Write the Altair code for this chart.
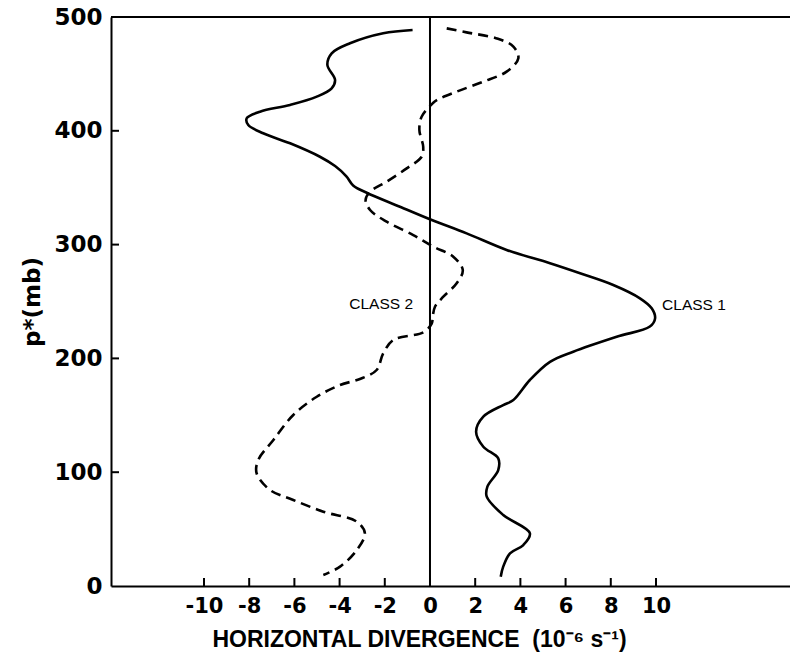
import altair as alt
import pandas as pd

# Class 1 (solid) profile, top to bottom: divergence (1e-6 s^-1) and p* (mb)
class1_x = [-0.77, -2.07, -3.54, -4.35, -4.54, -4.20, -4.35, -5.01, -6.19, -7.52,
            -8.11, -8.04, -7.38, -6.19, -4.87, -4.20, -3.70, -3.40, -2.80, -1.33,
            0.08, 1.62, 3.39, 5.31, 6.64, 8.11, 9.29, 9.81, 9.96, 9.73,
            8.26, 6.34, 5.31, 4.42, 3.69, 3.24, 2.36, 2.04, 2.36, 3.02,
            3.02, 2.54, 2.51, 3.24, 4.42, 4.13, 3.54, 3.24, 3.13]
class1_p = [488.6, 485.7, 476.9, 468.1, 457.8, 444.6, 437.3, 430.0, 422.7, 416.8,
            411.0, 405.1, 397.8, 389.0, 377.2, 369.0, 360.0, 352.0, 345.6, 333.3,
            321.6, 309.9, 295.3, 283.6, 274.8, 264.5, 252.8, 244.0, 235.2, 228.0,
            219.0, 205.9, 197.0, 181.0, 163.4, 159.0, 148.8, 135.6, 122.4, 112.2,
            101.9, 87.3, 78.5, 62.4, 46.3, 36.0, 28.7, 17.0, 8.2]

# Class 2 (dashed) profile, top to bottom
class2_x = [0.74, 1.62, 2.95, 3.69, 3.91, 3.39, 2.36, 1.18, 0.30, 0.12,
            -0.37, -0.47, -0.30, -0.37, -1.03, -1.92, -2.65, -2.85, -2.65, -1.92,
            -0.74, 0.15, 1.03, 1.45, 1.18, 0.59, 0.22, 0.12, 0.08, -0.30,
            -1.62, -2.07, -2.36, -3.10, -3.98, -5.01, -6.05, -6.93, -7.60, -7.67,
            -7.08, -6.05, -4.72, -3.24, -2.88, -3.24, -3.98, -4.72]
class2_p = [490.0, 486.5, 481.2, 474.0, 463.7, 452.0, 443.2, 434.4, 427.0, 424.2,
            412.4, 400.7, 386.0, 377.2, 367.0, 355.3, 346.5, 339.2, 330.4, 320.1,
            308.4, 298.2, 289.4, 277.7, 266.0, 254.2, 245.4, 236.6, 230.8, 222.9,
            216.2, 204.5, 189.8, 181.9, 176.6, 166.3, 150.3, 128.3, 110.7, 99.0,
            84.4, 75.6, 65.3, 56.5, 46.3, 31.6, 17.0, 9.7]

x_ticks = [-10, -8, -6, -4, -2, 0, 2, 4, 6, 8, 10]
y_ticks = [0, 100, 200, 300, 400, 500]
y_inner_ticks = [100, 200, 300, 400]

label_text = ["CLASS 1", "CLASS 2"]
label_x = [10.27, -0.75]
label_p = [247, 248]
label_align = ["left", "right"]

X_DOMAIN = [-14.115, 15.93]
Y_DOMAIN = [0, 500]
W, H = 679, 569

df1 = pd.DataFrame({"x": class1_x, "p": class1_p, "i": range(len(class1_x))})
df2 = pd.DataFrame({"x": class2_x, "p": class2_p, "i": range(len(class2_x))})
dfx = pd.DataFrame({"x": x_ticks})
dfy = pd.DataFrame({"p": y_inner_ticks})
dfl = pd.DataFrame({"t": label_text, "x": label_x, "p": label_p, "a": label_align})

xscale = alt.Scale(domain=X_DOMAIN, nice=False, zero=False)
yscale = alt.Scale(domain=Y_DOMAIN, nice=False)

x_axis = alt.Axis(
    values=x_ticks, ticks=False, tickSize=0, grid=False,
    domainColor="black", domainWidth=2,
    labelFont="DejaVu Sans", labelFontWeight="bold", labelFontSize=21,
    labelColor="black", labelPadding=9, labelExpr="'' + datum.value",
    title="HORIZONTAL DIVERGENCE\u00a0\u00a0(10⁻⁶ s⁻¹)",
    titleFont="Liberation Sans", titleFontWeight="bold", titleFontSize=23,
    titleColor="black", titlePadding=12, titleX=308, titleAlign="center",
)
y_axis = alt.Axis(
    values=y_ticks, ticks=False, tickSize=0, grid=False,
    domainColor="black", domainWidth=2,
    labelFont="DejaVu Sans", labelFontWeight="bold", labelFontSize=23,
    labelColor="black", labelPadding=9,
    title="p*(mb)",
    titleFont="DejaVu Sans", titleFontWeight="bold", titleFontSize=23,
    titleColor="black", titlePadding=9,
)

line1 = alt.Chart(df1).mark_line(
    color="black", strokeWidth=2.6, interpolate="catmull-rom"
).encode(
    x=alt.X("x:Q", scale=xscale, axis=x_axis),
    y=alt.Y("p:Q", scale=yscale, axis=y_axis),
    order="i:Q",
)

line2 = alt.Chart(df2).mark_line(
    color="black", strokeWidth=2.6, strokeDash=[10, 6], interpolate="catmull-rom"
).encode(
    x=alt.X("x:Q", scale=xscale),
    y=alt.Y("p:Q", scale=yscale),
    order="i:Q",
)

zero_line = alt.Chart(pd.DataFrame({"x": [0]})).mark_rule(
    color="black", strokeWidth=2
).encode(x=alt.X("x:Q", scale=xscale), y=alt.value(0), y2=alt.value(H))

top_line = alt.Chart(pd.DataFrame({"p": [500]})).mark_rule(
    color="black", strokeWidth=2
).encode(y=alt.Y("p:Q", scale=yscale), x=alt.value(0), x2=alt.value(W))

xt = alt.Chart(dfx).mark_rule(color="black", strokeWidth=2).encode(
    x=alt.X("x:Q", scale=xscale), y=alt.value(H), y2=alt.value(H - 8)
)
yt = alt.Chart(dfy).mark_rule(color="black", strokeWidth=2).encode(
    y=alt.Y("p:Q", scale=yscale), x=alt.value(0), x2=alt.value(8)
)

lab_left = alt.Chart(dfl[dfl["a"] == "left"]).mark_text(
    align="left", baseline="middle", font="Liberation Sans", fontSize=15.5, color="black"
).encode(x=alt.X("x:Q", scale=xscale), y=alt.Y("p:Q", scale=yscale), text="t:N")
lab_right = alt.Chart(dfl[dfl["a"] == "right"]).mark_text(
    align="right", baseline="middle", font="Liberation Sans", fontSize=15.5, color="black"
).encode(x=alt.X("x:Q", scale=xscale), y=alt.Y("p:Q", scale=yscale), text="t:N")

chart = alt.layer(
    zero_line, top_line, xt, yt, line1, line2, lab_left, lab_right
).properties(
    width=W, height=H,
    padding={"left": 111, "top": 17, "right": 0, "bottom": 72},
    autosize=alt.AutoSizeParams(type="none"),
    background="white",
).configure_view(strokeWidth=0)

chart.save("out.html", embed_options={"renderer": "svg", "actions": False})
